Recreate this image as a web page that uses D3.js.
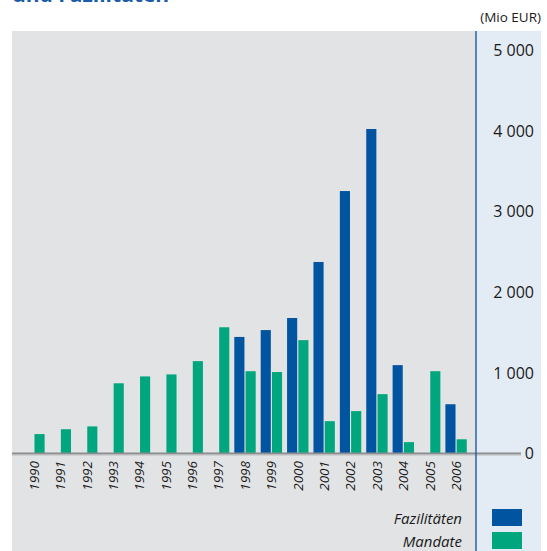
<!DOCTYPE html>
<html>
<head>
<meta charset="utf-8">
<script src="https://cdn.jsdelivr.net/npm/d3@7"></script>
<style>
  html, body { margin: 0; padding: 0; background: #ffffff; }
  svg { display: block; font-family: "Open Sans", "Noto Sans", sans-serif; }
</style>
</head>
<body>
<svg id="chart" width="547" height="551"></svg>
<script>
// Annual volumes (Mio EUR)
const years = ["1990","1991","1992","1993","1994","1995","1996","1997","1998",
               "1999","2000","2001","2002","2003","2004","2005","2006"];
const fazilitaeten = [0, 0, 0, 0, 0, 0, 0, 0, 1440, 1525, 1675, 2370, 3250, 4020, 1090, 0, 605];
const mandate      = [235, 295, 330, 865, 950, 975, 1140, 1560, 1015, 1005, 1400, 395, 520, 730, 135, 1015, 170];
const seriesNames = ["Fazilitäten", "Mandate"];
const seriesColors = ["#0054a0", "#00a77e"];
const yTicks = [0, 1000, 2000, 3000, 4000, 5000];
const unitLabel = "(Mio EUR)";
const titleText = "und Fazilitäten";

const svg = d3.select("#chart");
const W = 547, H = 551;

// panel geometry
const panelLeft = 12, panelTop = 31, axisX = 476, panelRight = 541;

svg.append("rect").attr("x", panelLeft).attr("y", panelTop)
  .attr("width", axisX - panelLeft).attr("height", H - panelTop).attr("fill", "#e2e3e5");
svg.append("rect").attr("x", axisX).attr("y", panelTop)
  .attr("width", panelRight - axisX).attr("height", H - panelTop).attr("fill", "#e3ebf4");

// title (upper part lies outside the frame)
svg.append("text").attr("x", 12).attr("y", 2)
  .attr("fill", "#1a5ca8").attr("font-weight", "bold").attr("font-size", 21)
  .text(titleText);

// scales
const y = d3.scaleLinear().domain([0, 5000]).range([453, 50]);
const x0 = d3.scaleBand().domain(years).range([14, 476]).paddingInner(0.19).paddingOuter(0.35);
const x1 = d3.scaleBand().domain(seriesNames).range([0, x0.bandwidth()]).paddingInner(0.1);

const rows = years.map((yr, i) => ({ year: yr, values: [fazilitaeten[i], mandate[i]] }));

const groups = svg.append("g").selectAll("g").data(rows).join("g")
  .attr("transform", d => `translate(${x0(d.year)},0)`);

groups.selectAll("rect")
  .data(d => d.values.map((v, k) => ({ name: seriesNames[k], value: v, color: seriesColors[k] })))
  .join("rect")
  .filter(d => d.value > 0)
  .attr("x", d => x1(d.name))
  .attr("width", x1.bandwidth())
  .attr("y", d => y(d.value))
  .attr("height", d => y(0) - y(d.value))
  .attr("fill", d => d.color);

// zero baseline
svg.append("line").attr("x1", panelLeft).attr("x2", 521)
  .attr("y1", y(0) + 2.5).attr("y2", y(0) + 2.5)
  .attr("stroke", "#cfd0d2").attr("stroke-width", 1);
svg.append("line").attr("x1", panelLeft).attr("x2", 521)
  .attr("y1", y(0) + 0.5).attr("y2", y(0) + 0.5)
  .attr("stroke", "#8c8d8f").attr("stroke-width", 2.2);

// right value axis
svg.append("line").attr("x1", axisX).attr("x2", axisX)
  .attr("y1", panelTop).attr("y2", H)
  .attr("stroke", "#1a5ca8").attr("stroke-width", 1.4);

const yAxis = d3.axisRight(y).tickValues(yTicks).tickSize(0)
  .tickFormat(d => d3.format(",")(d).replace(/,/g, " "));
const yg = svg.append("g").attr("transform", `translate(534,0)`).call(yAxis);
yg.select(".domain").remove();
yg.selectAll("text").attr("x", 0).attr("dy", "0.36em").attr("text-anchor", "end")
  .attr("font-size", 16).attr("fill", "#1a1a1a")
  .attr("font-family", "'Open Sans', 'Noto Sans', sans-serif");

svg.append("text").attr("x", 541).attr("y", 22).attr("text-anchor", "end")
  .attr("font-size", 13.5).attr("fill", "#1a1a1a").text(unitLabel);

// year labels
const xAxis = d3.axisBottom(x0).tickSize(0);
const xg = svg.append("g").attr("transform", `translate(0,${y(0)})`).call(xAxis);
xg.select(".domain").remove();
xg.selectAll(".tick text")
  .attr("transform", "rotate(-90)")
  .attr("x", -8).attr("y", 0).attr("dy", "0.36em")
  .attr("text-anchor", "end")
  .attr("font-style", "italic").attr("font-size", 13.5).attr("fill", "#1a1a1a")
  .attr("font-family", "'Open Sans', 'Noto Sans', sans-serif");

// legend
const legend = svg.append("g").selectAll("g").data(seriesNames).join("g")
  .attr("transform", (d, i) => `translate(0,${509 + i * 23})`);
legend.append("rect").attr("x", 492).attr("y", 0).attr("width", 30).attr("height", 17)
  .attr("fill", (d, i) => seriesColors[i]);
legend.append("text").attr("x", 462).attr("y", 14.5)
  .attr("text-anchor", "end").attr("font-style", "italic").attr("font-size", 15)
  .attr("fill", "#1a1a1a").text(d => d);
</script>
</body>
</html>
